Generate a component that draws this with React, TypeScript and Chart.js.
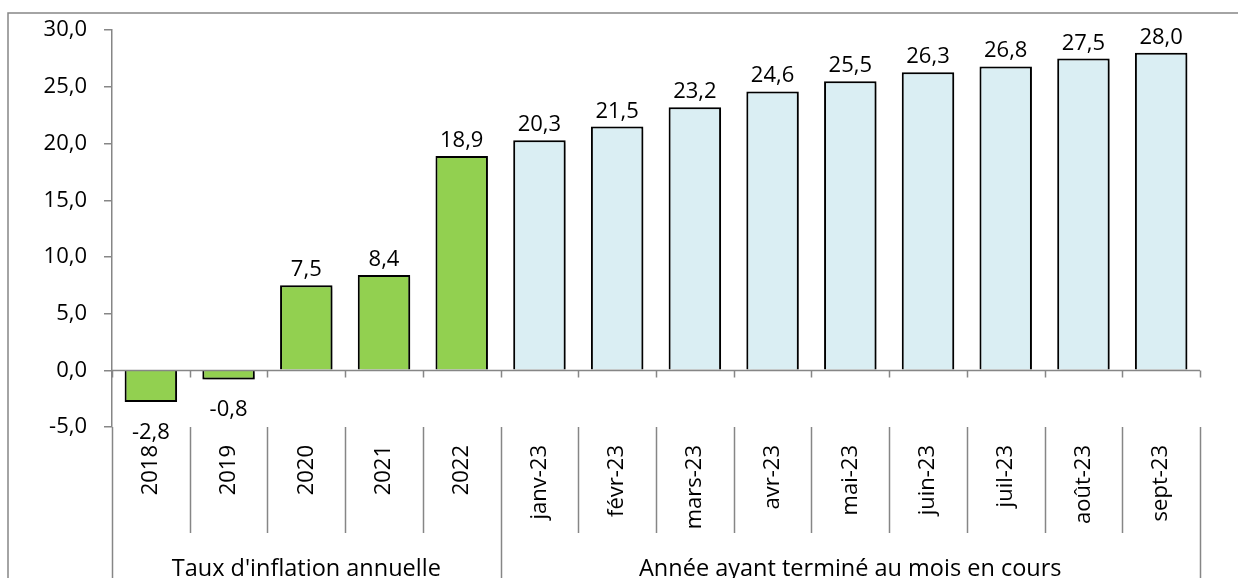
import { useEffect, useRef } from "react";
import { Chart, registerables } from "chart.js";

Chart.register(...registerables);

const categories = [
  "2018", "2019", "2020", "2021", "2022",
  "janv-23", "févr-23", "mars-23", "avr-23", "mai-23",
  "juin-23", "juil-23", "août-23", "sept-23",
];
const values = [-2.8, -0.8, 7.5, 8.4, 18.9, 20.3, 21.5, 23.2, 24.6, 25.5, 26.3, 26.8, 27.5, 28.0];
const groupLabels = ["Taux d'inflation annuelle", "Année ayant terminé au mois en cours"];
const groupSizes = [5, 9];
const yMin = -5;
const yMax = 30;
const yStep = 5;

const groupColors = ["#92D050", "#DAEEF3"];
const FONT = "'Open Sans', sans-serif";
const FS = 22;
const GFS = 23.5;
const GRAY = "#868686";

const fmt = (v: number) => v.toFixed(1).replace(".", ",");

function colorFor(i: number) {
  let acc = 0;
  for (let g = 0; g < groupSizes.length; g++) {
    acc += groupSizes[g];
    if (i < acc) return groupColors[g];
  }
  return groupColors[groupColors.length - 1];
}

const shadowPlugin = {
  id: "barShadow",
  beforeDatasetsDraw(chart: any) {
    const ctx = chart.ctx;
    ctx.save();
    ctx.shadowColor = "rgba(0,0,0,0.35)";
    ctx.shadowBlur = 4;
    ctx.shadowOffsetX = 2;
    ctx.shadowOffsetY = 2;
  },
  afterDatasetsDraw(chart: any) {
    chart.ctx.restore();
  },
};

const decorPlugin = {
  id: "decor",
  afterDraw(chart: any) {
    const ctx = chart.ctx;
    const area = chart.chartArea;
    const x = chart.scales.x;
    const y = chart.scales.y;
    const H = chart.height;
    const W = chart.width;
    ctx.save();
    // outer border
    ctx.strokeStyle = GRAY;
    ctx.lineWidth = 1.5;
    ctx.beginPath();
    ctx.moveTo(8, H);
    ctx.lineTo(8, 13);
    ctx.lineTo(W, 13);
    ctx.stroke();

    // zero line
    const y0 = Math.round(y.getPixelForValue(0)) + 0.5;
    ctx.beginPath();
    ctx.moveTo(area.left, y0);
    ctx.lineTo(area.right, y0);
    ctx.stroke();

    const n = categories.length;
    const boundary = (i: number) => {
      if (i === 0) return area.left;
      if (i === n) return area.right;
      return (x.getPixelForValue(i - 1) + x.getPixelForValue(i)) / 2;
    };
    // tick marks on zero line
    for (let i = 0; i <= n; i++) {
      const bx = Math.round(boundary(i)) + 0.5;
      ctx.beginPath();
      ctx.moveTo(bx, y0);
      ctx.lineTo(bx, y0 + 7);
      ctx.stroke();
    }
    // separators below
    const groupEdges = new Set<number>([0]);
    let acc = 0;
    for (const s of groupSizes) {
      acc += s;
      groupEdges.add(acc);
    }
    for (let i = 0; i <= n; i++) {
      const bx = Math.round(boundary(i)) + 0.5;
      ctx.beginPath();
      ctx.moveTo(bx, area.bottom);
      ctx.lineTo(bx, groupEdges.has(i) ? H : 533);
      ctx.stroke();
    }
    // group labels
    ctx.fillStyle = "#000";
    ctx.font = `${GFS}px ${FONT}`;
    ctx.textAlign = "center";
    ctx.textBaseline = "alphabetic";
    let start = 0;
    groupSizes.forEach((s, g) => {
      const cx = (boundary(start) + boundary(start + s)) / 2;
      ctx.fillText(groupLabels[g], cx, 576);
      start += s;
    });

    // data labels
    ctx.font = `${FS}px ${FONT}`;
    const meta = chart.getDatasetMeta(0);
    meta.data.forEach((el: any, i: number) => {
      const v = values[i];
      const ly = v >= 0 ? el.y - 9 : el.y + 37;
      ctx.fillText(fmt(v), el.x, ly);
    });
    ctx.restore();
  },
};

export default function App() {
  const ref = useRef<HTMLCanvasElement | null>(null);
  useEffect(() => {
    if (!ref.current) return;
    const chart = new Chart(ref.current, {
      type: "bar",
      data: {
        labels: categories,
        datasets: [
          {
            data: values,
            backgroundColor: values.map((_, i) => colorFor(i)),
            borderColor: "#000",
            borderWidth: 2,
            barPercentage: 0.675,
            categoryPercentage: 1,
          },
        ],
      },
      options: {
        responsive: false,
        animation: false,
        devicePixelRatio: 1,
        layout: { padding: { left: 0, top: 30, right: 38, bottom: 0 } },
        plugins: { legend: { display: false }, tooltip: { enabled: false } },
        scales: {
          x: {
            grid: { display: false, drawTicks: false },
            border: { display: false },
            ticks: {
              color: "#000",
              font: { family: FONT, size: FS },
              minRotation: 90,
              maxRotation: 90,
              autoSkip: false,
              padding: 18,
            },
            afterFit: (s: any) => {
              s.height = 151;
            },
          },
          y: {
            min: yMin,
            max: yMax,
            grid: {
              drawOnChartArea: false,
              drawTicks: true,
              tickLength: 8,
              color: GRAY,
              lineWidth: 1.5,
            },
            border: { display: true, color: GRAY, width: 1.5 },
            ticks: {
              stepSize: yStep,
              color: "#000",
              font: { family: FONT, size: FS },
              padding: 17,
              callback: (v: any) => fmt(Number(v)),
            },
            afterFit: (s: any) => {
              s.width = 112;
            },
          },
        },
      },
      plugins: [shadowPlugin, decorPlugin],
    });
    return () => chart.destroy();
  }, []);
  return (
    <div style={{ position: "fixed", left: 0, top: 0, width: 1238, height: 578, background: "#fff" }}>
      <canvas ref={ref} width={1238} height={578} />
    </div>
  );
}
